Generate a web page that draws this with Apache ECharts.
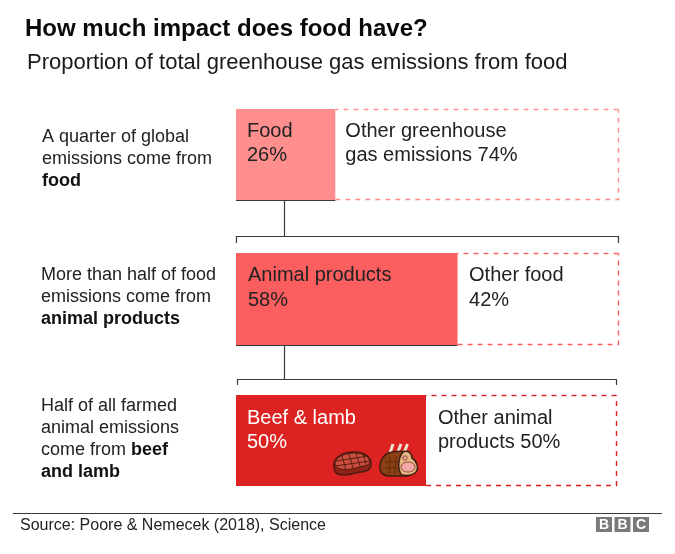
<!DOCTYPE html>
<html>
<head>
<meta charset="utf-8">
<style>
  html, body { margin: 0; padding: 0; background: #fff; }
  #chart { width: 675px; height: 554px; }
</style>
<script src="https://cdn.jsdelivr.net/npm/echarts@6/dist/echarts.min.js"></script>
</head>
<body>
<div id="chart"></div>
<script>
// values, in percent
const shareNames = ['Food', 'Animal products', 'Beef & lamb']
const shareValues = [26, 58, 50]
const otherValues = [74, 42, 50]
const otherLabels = [
  'Other greenhouse\ngas emissions 74%',
  'Other food\n42%',
  'Other animal\nproducts 50%'
]
const rowNotes = [
  'A quarter of global\nemissions come from\n{b|food}',
  'More than half of food\nemissions come from\n{b|animal products}',
  'Half of all farmed\nanimal emissions\ncome from {b|beef}\n{b|and lamb}'
]

const FONT = '"Liberation Sans", Arial, sans-serif'
const rowColors = ['#ff8f8f', '#fa5e5e', '#dd2222']
const rowTextColors = ['#222222', '#222222', '#ffffff']
const rowTops = [109, 253, 395]
const rowHeights = [91, 92, 91]
const rowWidths = [382, 382, 380]
const labelPads = [10, 11.5, 12]
const barLabelPads = [11, 12, 11]
const labelDrops = [10, 10.5, 11]
const noteLefts = [42, 41, 41]
const noteTops = [126.5, 264, 395]
const LINE_COLOR = '#3a3a3a'
const DASH = [5, 5]

const grids = rowTops.map((top, i) => ({ left: 236, top, width: rowWidths[i], height: rowHeights[i] }))
const xAxes = rowTops.map((_, i) => ({ gridIndex: i, type: 'value', min: 0, max: 100, show: false }))
const yAxes = rowTops.map((_, i) => ({ gridIndex: i, type: 'category', data: ['share'], show: false }))

const series = []
shareValues.forEach((value, i) => {
  series.push({
    type: 'bar',
    xAxisIndex: i,
    yAxisIndex: i,
    barWidth: '100%',
    silent: true,
    animation: false,
    data: [value],
    itemStyle: { color: rowColors[i] },
    label: {
      show: true,
      position: [barLabelPads[i], labelDrops[i]],
      formatter: shareNames[i] + '\n' + value + '%',
      fontFamily: FONT,
      fontSize: 20,
      lineHeight: 24.5,
      color: rowTextColors[i]
    }
  })
  // dashed outline of the remainder, open towards the solid bar
  series.push({
    type: 'custom',
    xAxisIndex: i,
    yAxisIndex: i,
    silent: true,
    animation: false,
    clip: false,
    encode: { x: [0, 1], y: 2 },
    data: [[value, value + otherValues[i], 0]],
    renderItem: (params, api) => {
      const left = api.coord([api.value(0), 0])[0]
      const right = Math.round(api.coord([api.value(1), 0])[0]) + 0.5
      const start = api.coord([0, 0])[0]
      const cy = api.coord([0, 0])[1]
      const h = api.size([0, 1])[1]
      const top = Math.round(cy - h / 2) + 0.5
      const bottom = Math.round(cy + h / 2) - 0.5
      const children = [
        {
          type: 'polyline',
          shape: { points: [[right, top], [left, top]] },
          style: { fill: null, stroke: rowColors[i], lineWidth: 1.4, lineDash: DASH }
        },
        {
          type: 'polyline',
          shape: { points: [[left, bottom], [right, bottom], [right, top]] },
          style: { fill: null, stroke: rowColors[i], lineWidth: 1.4, lineDash: DASH }
        },
        {
          type: 'text',
          x: left + labelPads[i],
          y: top + labelDrops[i] - 0.5,
          style: {
            text: otherLabels[i],
            font: '20px ' + FONT,
            lineHeight: 24.5,
            fill: '#222222'
          }
        }
      ]
      // rows that lead on to a breakdown get a dark base under the solid bar
      if (i < 2) {
        children.push({
          type: 'line',
          shape: { x1: start, y1: bottom + 1, x2: left, y2: bottom + 1 },
          style: { stroke: LINE_COLOR, lineWidth: 1.2 }
        })
      }
      return { type: 'group', children }
    }
  })
})

// steak and ham icons on the third bar, custom series because graphic has no path type
series.push({
  type: 'custom',
  xAxisIndex: 2,
  yAxisIndex: 2,
  silent: true,
  animation: false,
  clip: false,
  z: 6,
  encode: { x: 0, y: 1 },
  data: [[0, 0]],
  renderItem: () => ({
    type: 'group',
    children: [
      { type: 'path', shape: { pathData: 'M334 466 C333 457 344 452 354 452 C365 452 372 458 371 465 C370 473 362 471 356 473 C349 475 343 476 338 474 C335 473 334 470 334 466 Z' },
        style: { fill: '#8c2417', stroke: '#4f1a10', lineWidth: 1.6 } },
      { type: 'path', shape: { pathData: 'M335 464 C335 457 345 453 354 453 C364 453 370 458 370 462 C369 466 361 466 355 468 C349 470 336 471 335 464 Z' },
        style: { fill: '#c9503e', stroke: '#4f1a10', lineWidth: 0.9 } },
      { type: 'path', shape: { pathData: 'M342 456 L346 470 M349 454 L353 468 M356 453 L360 466 M363 454 L366 464 M336 461 L368 456 M335 466 L370 461' },
        style: { fill: null, stroke: '#5a1c12', lineWidth: 1 } },
      { type: 'path', shape: { pathData: 'M390 453 L393 444 M397.5 453 L401 444 M404 453 L407.5 444' },
        style: { fill: null, stroke: '#ece2cf', lineWidth: 3 } },
      { type: 'path', shape: { pathData: 'M388 453 C382 456 379 463 380 469 C381 474 385 476 390 476 L408 476 L408 452 C402 451 394 451 388 453 Z' },
        style: { fill: '#8a4013', stroke: '#3f1f10', lineWidth: 1.5 } },
      { type: 'path', shape: { pathData: 'M385 462 L400 462 M385 468 L400 468 M390 456 L389 474 M396 456 L395 474' },
        style: { fill: null, stroke: '#5f2b0e', lineWidth: 0.9 } },
      { type: 'path', shape: { pathData: 'M403 452 C408 450 412 453 412 458 C417 461 419 468 416 472 C412 476 407 476 402 475 C397 470 398 458 403 452 Z' },
        style: { fill: '#e7b685', stroke: '#3f1f10', lineWidth: 1.5 } },
      { type: 'ellipse', shape: { cx: 408, cy: 467, rx: 7, ry: 5 }, style: { fill: '#f4a7a5', stroke: '#5f2b0e', lineWidth: 0.7 } },
      { type: 'circle', shape: { cx: 405, cy: 458, r: 2.2 }, style: { fill: '#f4a7a5', stroke: '#5f2b0e', lineWidth: 0.7 } }
    ]
  })
})

function line(x1, y1, x2, y2) {
  return { type: 'line', shape: { x1, y1, x2, y2 }, style: { stroke: LINE_COLOR, lineWidth: 1.2 }, z: 5 }
}

function text(x, y, str, font, fill) {
  return { type: 'text', x, y, style: { text: str, font, fill: fill || '#111111' }, z: 5 }
}

const notes = rowNotes.map((note, i) => ({
  type: 'text',
  x: noteLefts[i],
  y: noteTops[i],
  z: 5,
  style: {
    text: note,
    font: '18px ' + FONT,
    lineHeight: 22,
    fill: '#222222',
    rich: { b: { font: 'bold 18px ' + FONT, lineHeight: 22, fill: '#111111' } }
  }
}))

// connectors between rows
const connectors = [
  line(284.5, 200, 284.5, 236.5),
  line(236, 236.5, 619, 236.5),
  line(236.5, 236, 236.5, 243),
  line(618.5, 236, 618.5, 243),
  line(284.5, 345, 284.5, 379.5),
  line(237, 379.5, 617, 379.5),
  line(237.5, 379, 237.5, 385),
  line(616.5, 379, 616.5, 385)
]

// BBC blocks in the footer
const bbcLogo = ['B', 'B', 'C'].flatMap((letter, i) => [
  { type: 'rect', shape: { x: 596 + i * 18.5, y: 517, width: 16, height: 15 }, style: { fill: '#7a7a7a' }, z: 5 },
  { type: 'text', x: 604 + i * 18.5, y: 525, z: 6,
    style: { text: letter, font: 'bold 14px ' + FONT, fill: '#ffffff', align: 'center', verticalAlign: 'middle' } }
])

const chart = echarts.init(document.getElementById('chart'))
chart.setOption({
  animation: false,
  backgroundColor: '#ffffff',
  grid: grids,
  xAxis: xAxes,
  yAxis: yAxes,
  series,
  graphic: [
    text(25, 17, 'How much impact does food have?', 'bold 24px ' + FONT, '#0a0a0a'),
    text(27, 52, 'Proportion of total greenhouse gas emissions from food', '22px ' + FONT, '#1a1a1a'),
    ...notes,
    ...connectors,
    line(13, 513.5, 662, 513.5),
    text(20, 518, 'Source: Poore & Nemecek (2018), Science', '16px ' + FONT, '#222222'),
    ...bbcLogo
  ]
})
</script>
</body>
</html>
